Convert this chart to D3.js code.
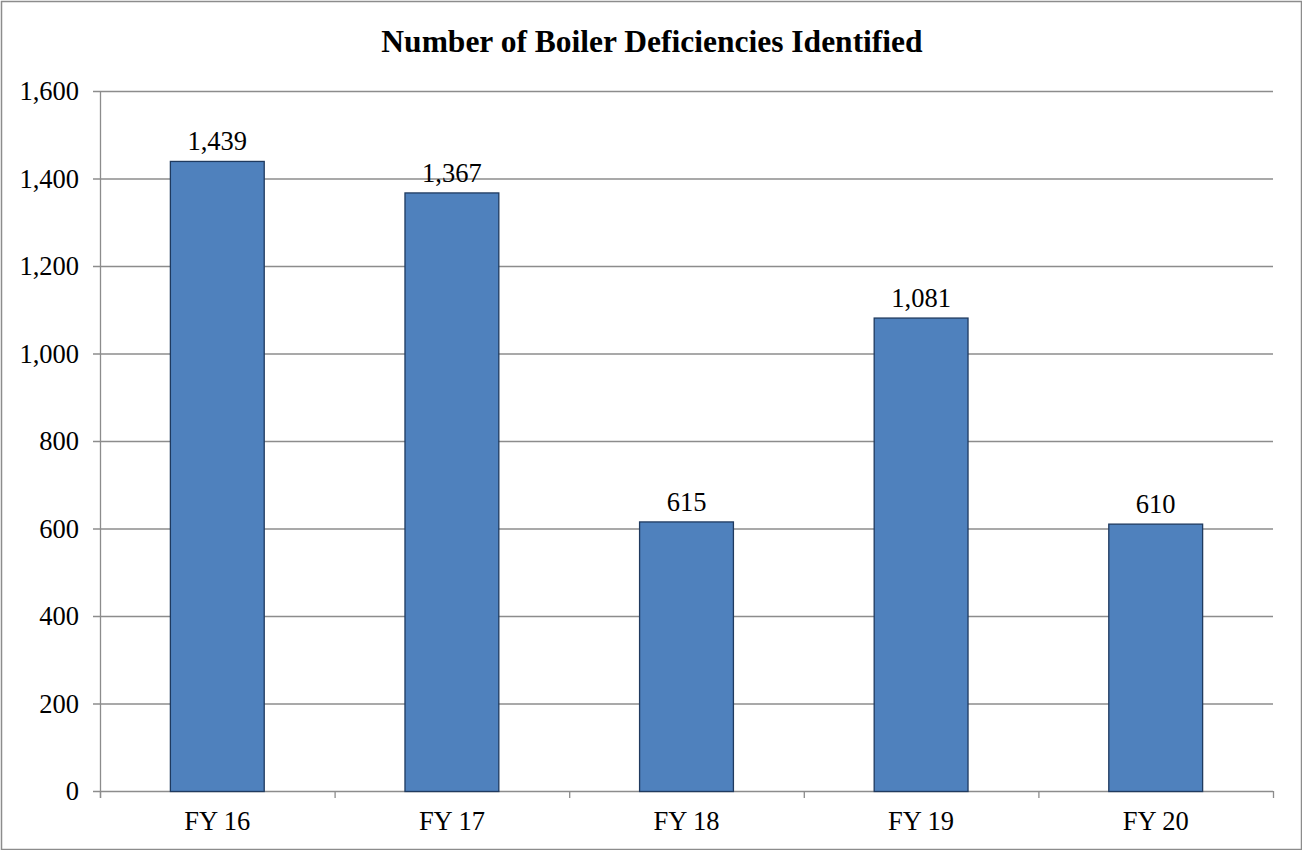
<!DOCTYPE html>
<html><head><meta charset="utf-8">
<script src="https://cdn.jsdelivr.net/npm/d3@7"></script>
<style>body{margin:0;background:#fff}svg{display:block}svg text{font-family:"Liberation Serif","DejaVu Serif",serif}</style>
</head><body>
<script>
const categories = ["FY 16","FY 17","FY 18","FY 19","FY 20"];
const values = [1439,1367,615,1081,610];
const yTicks = [0,200,400,600,800,1000,1200,1400,1600];
const title = "Number of Boiler Deficiencies Identified";

const W=1302,H=850;
const svg=d3.select("body").append("svg").attr("width",W).attr("height",H);
svg.append("rect").attr("x",1.5).attr("y",1.5).attr("width",W-2).attr("height",H-2)
  .attr("fill","#fff").attr("stroke","#8c8c8c").attr("stroke-width",1.5);

const L=100,R=1273,T=91,B=791;
const x=d3.scaleBand().domain(categories).range([L,R]).padding(0);
const y=d3.scaleLinear().domain([0,1600]).range([B,T]);

svg.append("g").selectAll("line").data(yTicks).join("line")
  .attr("x1",L-7).attr("x2",R).attr("y1",d=>y(d)+0.5).attr("y2",d=>y(d)+0.5)
  .attr("stroke","#8c8c8c").attr("stroke-width",1.3);
svg.append("line").attr("x1",L+0.5).attr("x2",L+0.5).attr("y1",T).attr("y2",B+7)
  .attr("stroke","#8c8c8c").attr("stroke-width",1.3);
const bounds=categories.map(c=>x(c)).concat([R]);
svg.append("g").selectAll("line").data(bounds).join("line")
  .attr("x1",d=>d+0.5).attr("x2",d=>d+0.5).attr("y1",B).attr("y2",B+7)
  .attr("stroke","#8c8c8c").attr("stroke-width",1.3);
svg.append("g").selectAll("text").data(yTicks).join("text")
  .attr("x",79).attr("y",d=>y(d)+9).attr("text-anchor","end")
  .attr("font-size",26.5).attr("fill","#000")
  .text(d=>d3.format(",")(d));
const bw=x.bandwidth()*0.4;
svg.append("g").selectAll("rect").data(values).join("rect")
  .attr("x",(d,i)=>x(categories[i])+x.bandwidth()/2-bw/2)
  .attr("y",d=>y(d)).attr("width",bw).attr("height",d=>B-y(d)+0.5)
  .attr("fill","#4f81bd").attr("stroke","#1f3a5f").attr("stroke-width",1.3);
svg.append("g").selectAll("text").data(values).join("text")
  .attr("x",(d,i)=>x(categories[i])+x.bandwidth()/2).attr("y",d=>y(d)-11)
  .attr("text-anchor","middle").attr("font-size",26.5)
  .text(d=>d3.format(",")(d));
svg.append("g").selectAll("text").data(categories).join("text")
  .attr("x",d=>x(d)+x.bandwidth()/2).attr("y",830)
  .attr("text-anchor","middle").attr("font-size",26.5)
  .text(d=>d);
svg.append("text").attr("x",652).attr("y",52).attr("text-anchor","middle")
  .attr("font-size",31.5).attr("font-weight","bold").text(title);
</script>
</body></html>
